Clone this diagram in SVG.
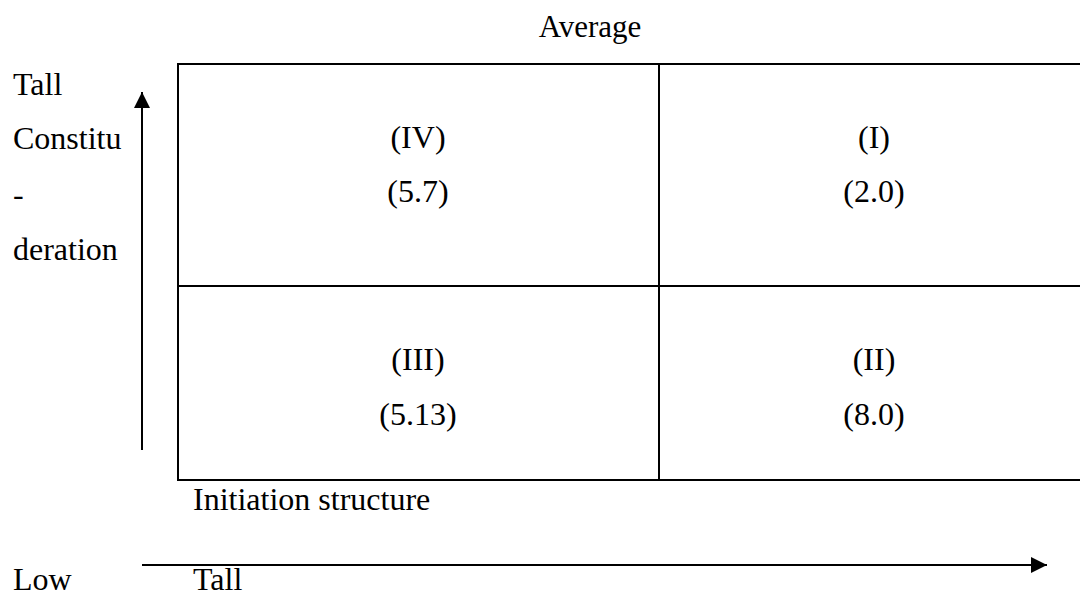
<svg xmlns="http://www.w3.org/2000/svg" width="1080" height="593" viewBox="0 0 1080 593">
<style>
text{font-family:"Liberation Serif","Times New Roman",serif;font-size:32px;fill:#000}
.c{text-anchor:middle}
.ln{stroke:#000;stroke-width:2;fill:none}
</style>
<defs>
<marker id="ah" viewBox="0 0 16 16" refX="16" refY="8" markerWidth="16" markerHeight="16" markerUnits="userSpaceOnUse" orient="auto">
<path d="M0,0 L16,8 L0,16 Z" fill="#000"/>
</marker>
</defs>
<rect width="1080" height="593" fill="#fff"/>
<text x="590" y="37" class="c" style="font-size:31px">Average</text>
<g id="grid">
<rect class="ln" x="178" y="64" width="910" height="416"/>
<line class="ln" x1="178" y1="286" x2="1080" y2="286"/>
<line class="ln" x1="659" y1="64" x2="659" y2="480"/>
</g>
<g id="q4"><text x="418" y="148" class="c">(IV)</text><text x="418" y="202" class="c">(5.7)</text></g>
<g id="q1"><text x="874" y="148" class="c">(I)</text><text x="874" y="202" class="c">(2.0)</text></g>
<g id="q3"><text x="418" y="370" class="c">(III)</text><text x="418" y="425" class="c">(5.13)</text></g>
<g id="q2"><text x="874" y="370" class="c">(II)</text><text x="874" y="425" class="c">(8.0)</text></g>
<g id="ylabel">
<text x="13" y="95">Tall</text>
<text x="13" y="149">Constitu</text>
<text x="13" y="205">-</text>
<text x="13" y="260">deration</text>
</g>
<g id="xlabel">
<text x="193" y="510">Initiation structure</text>
<text x="13" y="590">Low</text>
<text x="193" y="590">Tall</text>
</g>
<g id="connectors">
<line class="ln" x1="142" y1="450" x2="142" y2="92" marker-end="url(#ah)"/>
<line class="ln" x1="142" y1="565" x2="1047" y2="565" marker-end="url(#ah)"/>
</g>
</svg>
